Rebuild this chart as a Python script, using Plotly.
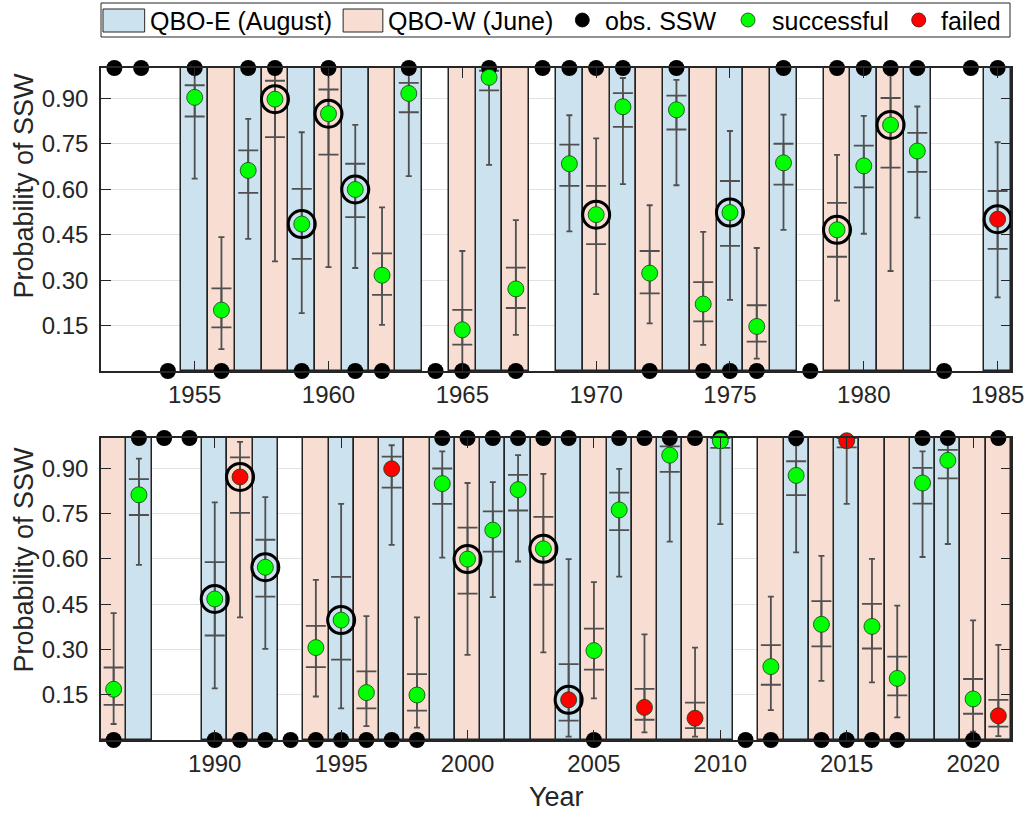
import plotly.graph_objects as go

# ---------------- data ----------------
years_top = list(range(1952, 1986))
qbo_top = ["", "", "", "E", "W", "E", "W", "E", "W", "E", "W", "E", "", "W", "E", "W", "",
           "E", "W", "E", "W", "E", "W", "E", "W", "E", "", "W", "E", "W", "E", "", "", "E"]
obs_top = [1, 1, 0, 1, 0, 1, 1, 0, 1, 0, 0, 1, 0, 0, 1, 0, 1,
           1, 1, 1, 0, 1, 0, 0, 0, 1, 0, 1, 1, 1, 1, 0, 1, 1]
prob_top = [None, None, None, 0.903, 0.201, 0.662, 0.897, 0.485, 0.849, 0.599, 0.316, 0.916, None,
            0.136, 0.969, 0.271, None, 0.684, 0.516, 0.872, 0.323, 0.862, 0.221, 0.523, 0.147,
            0.687, None, 0.466, 0.677, 0.812, 0.726, None, None, 0.501]
q25_top = [None, None, None, 0.840, 0.144, 0.588, 0.772, 0.370, 0.714, 0.508, 0.251, 0.854, None,
           0.087, 0.926, 0.208, None, 0.611, 0.419, 0.806, 0.256, 0.797, 0.164, 0.413, 0.097,
           0.615, None, 0.377, 0.606, 0.671, 0.657, None, None, 0.403]
q75_top = [None, None, None, 0.943, 0.273, 0.728, 0.958, 0.601, 0.929, 0.684, 0.388, 0.951, None,
           0.202, 0.991, 0.341, None, 0.747, 0.611, 0.917, 0.396, 0.909, 0.293, 0.627, 0.217,
           0.750, None, 0.555, 0.744, 0.901, 0.786, None, None, 0.594]
p05_top = [None, None, None, 0.635, 0.072, 0.436, 0.362, 0.191, 0.343, 0.340, 0.152, 0.643, None,
           0.015, 0.680, 0.119, None, 0.461, 0.254, 0.617, 0.157, 0.613, 0.086, 0.235, 0.041,
           0.466, None, 0.232, 0.453, 0.330, 0.506, None, None, 0.243]
p95_top = [None, None, None, 0.995, 0.442, 0.832, 0.994, 0.788, 0.983, 0.812, 0.540, 0.987, None,
           0.396, 1.000, 0.498, None, 0.844, 0.768, 0.967, 0.547, 0.961, 0.459, 0.792, 0.406,
           0.846, None, 0.713, 0.842, 0.976, 0.873, None, None, 0.755]
failed_top = [1985]
circled_top = [1958, 1959, 1960, 1961, 1970, 1975, 1979, 1981, 1985]

years_bot = list(range(1986, 2022))
qbo_bot = ["W", "E", "", "", "E", "W", "E", "", "W", "E", "W", "E", "W", "E",
           "W", "E", "E", "W", "E", "W", "E", "W", "E", "W", "E", "", "W", "E",
           "W", "E", "W", "W", "E", "E", "W", "W"]
obs_bot = [0, 1, 1, 1, 0, 0, 0, 0, 0, 0, 0, 0, 0, 1,
           1, 1, 1, 1, 1, 0, 1, 1, 1, 1, 1, 0, 0, 1,
           0, 0, 0, 0, 1, 1, 0, 1]
prob_bot = [0.168, 0.812, None, None, 0.467, 0.871, 0.572, None, 0.306, 0.397, 0.157, 0.898, 0.149, 0.849,
            0.599, 0.695, 0.829, 0.633, 0.133, 0.296, 0.762, 0.108, 0.943, 0.072, 0.991, None, 0.243, 0.876,
            0.383, 0.991, 0.376, 0.204, 0.851, 0.926, 0.136, 0.080]
q25_bot = [0.116, 0.745, None, None, 0.346, 0.752, 0.475, None, 0.241, 0.266, 0.105, 0.836, 0.097, 0.782,
           0.485, 0.624, 0.760, 0.514, 0.064, 0.233, 0.695, 0.067, 0.888, 0.039, 0.967, None, 0.183, 0.811,
           0.310, 0.969, 0.303, 0.148, 0.783, 0.866, 0.087, 0.044]
q75_bot = [0.240, 0.864, None, None, 0.589, 0.936, 0.663, None, 0.378, 0.540, 0.227, 0.938, 0.218, 0.899,
           0.703, 0.757, 0.878, 0.739, 0.251, 0.369, 0.819, 0.169, 0.972, 0.124, 1.000, None, 0.314, 0.923,
           0.460, 1.000, 0.451, 0.276, 0.901, 0.961, 0.202, 0.133]
p05_bot = [0.053, 0.580, None, None, 0.171, 0.406, 0.302, None, 0.144, 0.105, 0.046, 0.646, 0.041, 0.604,
           0.282, 0.473, 0.591, 0.290, 0.011, 0.138, 0.541, 0.025, 0.657, 0.011, 0.715, None, 0.099, 0.621,
           0.196, 0.782, 0.191, 0.075, 0.606, 0.649, 0.028, 0.013]
p95_bot = [0.420, 0.932, None, None, 0.787, 0.987, 0.804, None, 0.530, 0.782, 0.410, 0.976, 0.406, 0.956,
           0.851, 0.854, 0.943, 0.881, 0.599, 0.523, 0.898, 0.350, 0.995, 0.306, 1.000, None, 0.475, 0.976,
           0.610, 1.000, 0.600, 0.445, 0.956, 0.991, 0.396, 0.315]
failed_bot = [1991, 1997, 2004, 2007, 2009, 2015, 2021]
circled_bot = [1990, 1991, 1992, 1995, 2000, 2003, 2004]

ytick_vals = [0.15, 0.30, 0.45, 0.60, 0.75, 0.90]
ytick_text = ["0.15", "0.30", "0.45", "0.60", "0.75", "0.90"]
xtick_top = [1955, 1960, 1965, 1970, 1975, 1980, 1985]
xtick_bot = [1990, 1995, 2000, 2005, 2010, 2015, 2020]

# ---------------- style ----------------
BLUE = "rgb(204,226,239)"
PEACH = "rgb(247,221,210)"
EDGE = "rgb(35,35,35)"
WHISK = "rgb(80,80,80)"
GREEN = "rgb(0,255,0)"
RED = "rgb(255,0,0)"
AXC = "rgb(38,38,38)"
FONT = "Liberation Sans, Arial, Helvetica, sans-serif"

W, H = 1036, 813
ML, MR, MT, MB = 101, 18, 68, 73
PW, PH = W - ML - MR, H - MT - MB


def px_x(px):
    return (px - ML) / PW


def px_y(py):
    return (H - MB - py) / PH


fig = go.Figure()


def add_panel(years, qbo, obs, prob, q25, q75, p05, p95, failed, circled, xa, ya):
    for ph, col in (("E", BLUE), ("W", PEACH)):
        xs = [y for y, q in zip(years, qbo) if q == ph]
        fig.add_trace(go.Bar(x=xs, y=[1] * len(xs), base=0, width=1,
                             marker=dict(color=col, line=dict(color=EDGE, width=1.5)),
                             xaxis=xa, yaxis=ya, showlegend=False, hoverinfo="skip"))
    idx = [i for i, p in enumerate(prob) if p is not None]
    xs = [years[i] for i in idx]
    ps = [prob[i] for i in idx]
    # outer whiskers
    fig.add_trace(go.Scatter(
        x=xs, y=ps, mode="markers", marker=dict(color="rgba(0,0,0,0)", size=2),
        error_y=dict(type="data", symmetric=False,
                     array=[p95[i] - prob[i] for i in idx],
                     arrayminus=[prob[i] - p05[i] for i in idx],
                     color=WHISK, thickness=1.8, width=3),
        xaxis=xa, yaxis=ya, showlegend=False, hoverinfo="skip", cliponaxis=False))
    # inner crossbars
    fig.add_trace(go.Scatter(
        x=xs, y=ps, mode="markers", marker=dict(color="rgba(0,0,0,0)", size=2),
        error_y=dict(type="data", symmetric=False,
                     array=[q75[i] - prob[i] for i in idx],
                     arrayminus=[prob[i] - q25[i] for i in idx],
                     color=WHISK, thickness=1.8, width=10),
        xaxis=xa, yaxis=ya, showlegend=False, hoverinfo="skip", cliponaxis=False))
    # observed SSW
    fig.add_trace(go.Scatter(
        x=years, y=obs, mode="markers",
        marker=dict(color="black", size=16, line=dict(width=0)),
        xaxis=xa, yaxis=ya, showlegend=False, hoverinfo="skip", cliponaxis=False))
    # forecasts
    cols = [RED if years[i] in failed else GREEN for i in idx]
    fig.add_trace(go.Scatter(
        x=xs, y=ps, mode="markers",
        marker=dict(color=cols, size=16, line=dict(color="rgb(20,60,20)", width=0.8)),
        xaxis=xa, yaxis=ya, showlegend=False, hoverinfo="skip", cliponaxis=False))
    # rings
    cx = [years[i] for i in idx if years[i] in circled]
    cy = [prob[i] for i in idx if years[i] in circled]
    fig.add_trace(go.Scatter(
        x=cx, y=cy, mode="markers",
        marker=dict(symbol="circle-open", color="black", size=27, line=dict(color="black", width=3)),
        xaxis=xa, yaxis=ya, showlegend=False, hoverinfo="skip", cliponaxis=False))


add_panel(years_top, qbo_top, obs_top, prob_top, q25_top, q75_top, p05_top, p95_top,
          failed_top, circled_top, "x", "y")
add_panel(years_bot, qbo_bot, obs_bot, prob_bot, q25_bot, q75_bot, p05_bot, p95_bot,
          failed_bot, circled_bot, "x2", "y2")

top_dom = [px_y(371), 1.0]
bot_dom = [0.0, px_y(438)]

xcommon = dict(showline=True, linecolor=AXC, linewidth=1.5, mirror="ticks", ticks="inside",
               ticklen=10, tickwidth=1.3, tickcolor=AXC, showgrid=False, zeroline=False,
               tickfont=dict(family=FONT, size=24, color=AXC), ticklabelstandoff=1)
ycommon = dict(showline=True, linecolor=AXC, linewidth=1.5, mirror="ticks", ticks="inside",
               ticklen=10, tickwidth=1.3, tickcolor=AXC, showgrid=True,
               gridcolor="rgb(226,226,226)", gridwidth=1, zeroline=False,
               tickfont=dict(family=FONT, size=24, color=AXC), range=[0, 1],
               tickvals=ytick_vals, ticktext=ytick_text, ticklabelstandoff=6)

fig.update_layout(
    width=W, height=H, autosize=False,
    margin=dict(l=ML, r=MR, t=MT, b=MB, pad=0),
    paper_bgcolor="white", plot_bgcolor="white",
    barmode="overlay", bargap=0,
    font=dict(family=FONT, color=AXC),
    xaxis=dict(xcommon, domain=[0, 1], range=[1951.5, 1985.5], tickvals=xtick_top,
               anchor="y"),
    yaxis=dict(ycommon, domain=top_dom, anchor="x"),
    xaxis2=dict(xcommon, domain=[0, 1], range=[1985.5, 2021.5], tickvals=xtick_bot,
                anchor="y2"),
    yaxis2=dict(ycommon, domain=bot_dom, anchor="x2"),
    showlegend=False,
)

# axis titles
ann = []
ann.append(dict(text="Probability of SSW", xref="paper", yref="paper", x=px_x(23), y=px_y(186),
                xanchor="center", yanchor="middle", textangle=-90, showarrow=False,
                font=dict(family=FONT, size=27, color=AXC)))
ann.append(dict(text="Probability of SSW", xref="paper", yref="paper", x=px_x(23), y=px_y(560),
                xanchor="center", yanchor="middle", textangle=-90, showarrow=False,
                font=dict(family=FONT, size=27, color=AXC)))
ann.append(dict(text="Year", xref="paper", yref="paper", x=px_x(560), y=px_y(797),
                xanchor="center", yanchor="middle", showarrow=False,
                font=dict(family=FONT, size=27, color=AXC)))

# manual legend
shapes = []
shapes.append(dict(type="rect", xref="paper", yref="paper", x0=px_x(101), x1=px_x(1017),
                   y0=px_y(37), y1=px_y(3), line=dict(color=AXC, width=1), fillcolor="white",
                   layer="above"))
legend_patches = [(103, 145, BLUE), (345, 385, PEACH)]
for x0, x1, c in legend_patches:
    shapes.append(dict(type="rect", xref="paper", yref="paper", x0=px_x(x0), x1=px_x(x1),
                       y0=px_y(32), y1=px_y(9), line=dict(color=AXC, width=1), fillcolor=c,
                       layer="above"))
legend_dots = [(586, "black", "black"), (753, GREEN, "rgb(20,60,20)"), (925, RED, "rgb(60,20,20)")]
for cxp, c, lc in legend_dots:
    shapes.append(dict(type="circle", xref="paper", yref="paper", xsizemode="pixel",
                       ysizemode="pixel", xanchor=px_x(cxp), yanchor=px_y(20),
                       x0=-7, x1=7, y0=-7, y1=7, fillcolor=c, line=dict(color=lc, width=0.8),
                       layer="above"))
legend_texts = [(148, "QBO-E (August)"), (388, "QBO-W (June)"), (607, "obs. SSW"),
                (775, "successful"), (945, "failed")]
for xp, t in legend_texts:
    ann.append(dict(text=t, xref="paper", yref="paper", x=px_x(xp), y=px_y(21),
                    xanchor="left", yanchor="middle", showarrow=False,
                    font=dict(family=FONT, size=25, color="black")))

fig.update_layout(annotations=ann, shapes=shapes)

fig.write_html("out.html")
